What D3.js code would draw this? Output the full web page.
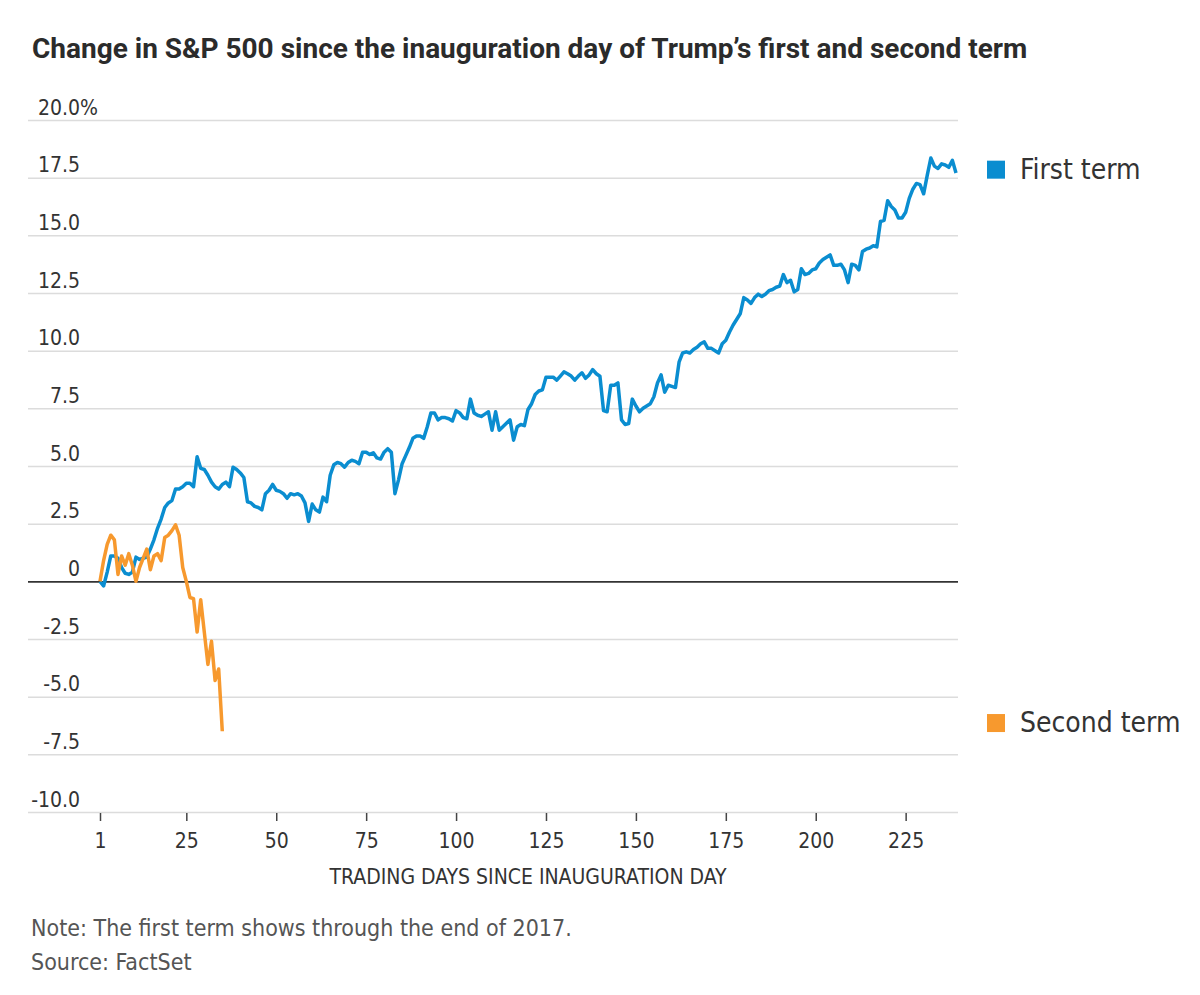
<!DOCTYPE html>
<html>
<head>
<meta charset="utf-8">
<script src="https://cdn.jsdelivr.net/npm/d3@7"></script>
<style>
  body { margin: 0; background: #fff; }
  svg { display: block; }
</style>
</head>
<body>
<svg id="chart" width="1200" height="995"></svg>
<script>
/*
Data: S&P 500 change (%) for each trading day
since the inauguration day, first term (2017) and second term (2025)
*/
const firstTerm = [
  0.0, -0.2, 0.4, 1.1, 1.1, 1.0, 0.6, 0.35, 0.3, 0.4,
  1.05, 0.95, 1.0, 1.05, 1.4, 1.8, 2.3, 2.7, 3.2, 3.4,
  3.5, 4.0, 4.0, 4.1, 4.25, 4.25, 4.1, 5.4, 4.9, 4.85,
  4.6, 4.3, 4.1, 4.0, 4.2, 4.3, 4.1, 4.95, 4.85, 4.7,
  4.5, 3.45, 3.4, 3.25, 3.2, 3.1, 3.8, 3.95, 4.2, 3.95,
  3.9, 3.8, 3.6, 3.8, 3.75, 3.8, 3.7, 3.4, 2.6, 3.35,
  3.1, 3.0, 3.65, 3.45, 4.6, 5.05, 5.15, 5.1, 4.95, 5.15,
  5.25, 5.2, 5.1, 5.6, 5.6, 5.5, 5.57, 5.35, 5.3, 5.6,
  5.75, 5.6, 3.8, 4.4, 5.1, 5.45, 5.8, 6.2, 6.3, 6.3,
  6.2, 6.7, 7.3, 7.3, 7.0, 7.1, 7.1, 7.05, 6.95, 7.4,
  7.3, 7.1, 7.05, 7.9, 7.3, 7.2, 7.15, 7.25, 7.35, 6.55,
  7.35, 6.55, 6.7, 6.85, 7.0, 6.12, 6.7, 6.8, 6.75, 7.45,
  7.7, 8.1, 8.25, 8.3, 8.85, 8.85, 8.85, 8.72, 8.9, 9.08,
  9.0, 8.9, 8.72, 8.9, 9.04, 8.8, 8.95, 9.18, 9.0, 8.89,
  7.4, 7.35, 8.5, 8.5, 8.6, 7.0, 6.8, 6.84, 7.9, 7.6,
  7.35, 7.5, 7.6, 7.7, 8.0, 8.6, 8.95, 8.2, 8.5, 8.45,
  8.4, 9.5, 9.9, 9.95, 9.9, 10.05, 10.15, 10.3, 10.38, 10.1,
  10.1, 10.0, 9.9, 10.3, 10.45, 10.8, 11.1, 11.35, 11.6, 12.3,
  12.2, 12.05, 12.3, 12.45, 12.35, 12.45, 12.6, 12.65, 12.75, 12.8,
  13.3, 12.95, 13.05, 12.55, 12.65, 13.55, 13.3, 13.35, 13.5, 13.55,
  13.8, 13.95, 14.05, 14.15, 13.7, 13.7, 13.75, 13.5, 12.95, 13.75,
  13.7, 13.5, 14.3, 14.4, 14.45, 14.55, 14.5, 15.6, 15.65, 16.5,
  16.25, 16.1, 15.75, 15.75, 16.0, 16.6, 17.0, 17.25, 17.2, 16.8,
  17.6, 18.35, 18.0, 17.9, 18.1, 18.05, 17.95, 18.25, 17.7
];

const secondTerm = [
  0.0, 0.9, 1.6, 2.0, 1.8, 0.3, 1.1, 0.7, 1.2, 0.7,
  0.0, 0.6, 1.0, 1.4, 0.5, 1.1, 1.2, 0.9, 1.9, 2.0,
  2.2, 2.45, 2.0, 0.6, 0.0, -0.7, -0.75, -2.2, -0.8, -2.2,
  -3.6, -2.6, -4.3, -3.8, -6.5
];

const seriesNames = ['First term', 'Second term'];
const seriesColors = ['#0a8dd0', '#f7992e'];

const xTicks = [1, 25, 50, 75, 100, 125, 150, 175, 200, 225];
const yTicks = [20, 17.5, 15, 12.5, 10, 7.5, 5, 2.5, 0, -2.5, -5, -7.5, -10];
const yTickLabels = ['20.0', '17.5', '15.0', '12.5', '10.0', '7.5', '5.0', '2.5', '0',
  '-2.5', '-5.0', '-7.5', '-10.0'];
const yUnit = '%';

// Plot box
const GRID_LEFT = 28;
const GRID_RIGHT = 958;
const LABEL_RIGHT = 80;
const NARROW = '"DejaVu Sans Condensed", "Roboto", sans-serif';

const svg = d3.select('svg#chart');

const x = d3.scaleLinear()
  .domain([1, firstTerm.length])
  .range([100, 956]);

const y = d3.scaleLinear()
  .domain([-10, 20])
  .range([812, 120]);

// Title
svg.append('text')
  .attr('x', 32)
  .attr('y', 58)
  .attr('font-family', 'Roboto, sans-serif')
  .attr('font-weight', 700)
  .attr('font-size', '28px')
  .attr('fill', '#2b2b2b')
  .text('Change in S&P 500 since the inauguration day of Trump\u2019s first and second term');

// Gridlines and y labels (numbers right-aligned, unit hangs on the top one)
const yAxis = svg.append('g')
  .attr('transform', `translate(${GRID_RIGHT},0)`)
  .call(d3.axisLeft(y)
    .tickValues(yTicks)
    .tickSize(GRID_RIGHT - GRID_LEFT)
    .tickFormat((d, i) => yTickLabels[i]));

yAxis.select('.domain').remove();
yAxis.selectAll('.tick line')
  .attr('stroke', (d) => (d === 0 ? '#333' : '#dcdcdc'))
  .attr('stroke-width', (d) => (d === 0 ? 1.6 : 1.5));
yAxis.selectAll('.tick text')
  .attr('x', LABEL_RIGHT - GRID_RIGHT)
  .attr('dy', -6)
  .attr('text-anchor', 'end')
  .attr('font-family', NARROW)
  .attr('font-size', '21px')
  .attr('fill', '#333');
yAxis.selectAll('.tick')
  .filter((d) => d === yTicks[0])
  .append('text')
  .attr('x', LABEL_RIGHT - GRID_RIGHT)
  .attr('dy', -6)
  .attr('text-anchor', 'start')
  .attr('font-family', NARROW)
  .attr('font-size', '21px')
  .attr('fill', '#333')
  .text(yUnit);
// keep the zero line on top of the other gridlines
yAxis.selectAll('.tick').filter((d) => d === 0).raise();

// X axis
const xAxis = svg.append('g')
  .attr('transform', `translate(0,${y(-10) + 1})`)
  .call(d3.axisBottom(x)
    .tickValues(xTicks)
    .tickSize(8)
    .tickPadding(12));

xAxis.select('.domain').remove();
xAxis.selectAll('.tick line')
  .attr('stroke', '#444')
  .attr('stroke-width', 1.5);
xAxis.selectAll('.tick text')
  .attr('font-family', NARROW)
  .attr('font-size', '21px')
  .attr('fill', '#333');

svg.append('text')
  .attr('x', 528)
  .attr('y', 884)
  .attr('text-anchor', 'middle')
  .attr('font-family', NARROW)
  .attr('font-size', '21px')
  .attr('fill', '#333')
  .text('TRADING DAYS SINCE INAUGURATION DAY');

// Lines
const lineFunction = d3.line()
  .x((val, idx) => x(idx + 1))
  .y((val) => y(val))
  .curve(d3.curveLinear);

svg.selectAll('path.series')
  .data([firstTerm, secondTerm])
  .enter()
  .append('path')
  .attr('class', 'series')
  .attr('d', (d) => lineFunction(d))
  .attr('fill', 'none')
  .attr('stroke', (d, i) => seriesColors[i])
  .attr('stroke-width', 3.5)
  .attr('stroke-linejoin', 'round');

// Legend, at the right of the plot
const legendY = [y(17.5) - 9, y(-6.1)];

const legend = svg.selectAll('g.legend')
  .data(seriesNames)
  .enter()
  .append('g')
  .attr('class', 'legend')
  .attr('transform', (d, i) => `translate(987,${legendY[i]})`);

legend.append('rect')
  .attr('x', 0)
  .attr('y', -8)
  .attr('width', 18)
  .attr('height', 18)
  .attr('fill', (d, i) => seriesColors[i]);

legend.append('text')
  .attr('x', 33)
  .attr('y', 10)
  .attr('font-family', NARROW)
  .attr('font-size', '28px')
  .attr('fill', '#333')
  .text((d) => d);

// Notes
svg.selectAll('text.note')
  .data(['Note: The first term shows through the end of 2017.', 'Source: FactSet'])
  .enter()
  .append('text')
  .attr('class', 'note')
  .attr('x', 31)
  .attr('y', (d, i) => 936 + i * 34)
  .attr('font-family', NARROW)
  .attr('font-size', '23px')
  .attr('fill', '#555')
  .text((d) => d);
</script>
</body>
</html>
